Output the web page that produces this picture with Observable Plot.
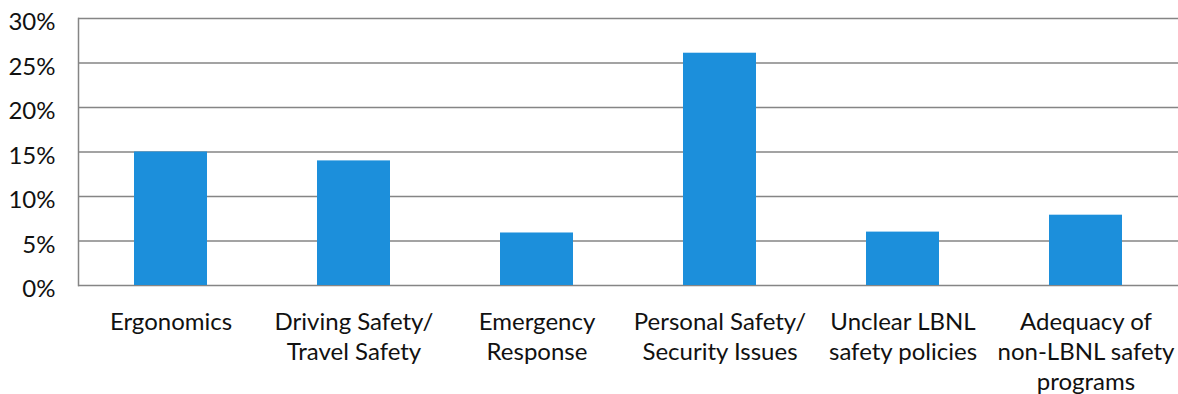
<!DOCTYPE html>
<html>
<head>
<meta charset="utf-8">
<script src="https://cdn.jsdelivr.net/npm/d3@7"></script>
<script src="https://cdn.jsdelivr.net/npm/@observablehq/plot@0.6"></script>
<style>
  body { margin: 0; background: #fff; }
</style>
</head>
<body>
<div id="chart"></div>
<script>
// Safety concern categories (line breaks mark wrapped labels)
const categories = [
  "Ergonomics",
  "Driving Safety/\nTravel Safety",
  "Emergency\nResponse",
  "Personal Safety/\nSecurity Issues",
  "Unclear LBNL\nsafety policies",
  "Adequacy of\nnon-LBNL safety\nprograms"
];
// Share of responses, in percent
const shares = [15.0, 14.0, 5.9, 26.1, 6.0, 7.9];
// Y-axis tick values, in percent
const yTicks = [0, 5, 10, 15, 20, 25, 30];

const rows = categories.map((category, i) => ({category, share: shares[i]}));

const chart = Plot.plot({
  width: 1178,
  height: 394,
  marginTop: 18,
  marginBottom: 109,
  marginLeft: 78,
  marginRight: 0,
  style: {fontFamily: "Lato, sans-serif", fontSize: "24px", color: "#111", background: "#fff"},
  x: {domain: categories, paddingInner: 0.6, paddingOuter: 0.3, align: 0.5, label: null},
  y: {domain: [0, 30], label: null},
  marks: [
    Plot.gridY(yTicks, {stroke: "#858585", strokeOpacity: 1, strokeWidth: 1.5}),
    Plot.frame({anchor: "left", stroke: "#858585", strokeWidth: 1.5}),
    Plot.barY(rows, {x: "category", y: "share", fill: "#1c8fdb"}),
    Plot.axisY(yTicks, {tickFormat: d => d + "%", tickSize: 0, tickPadding: 23, dy: 4, fontSize: 24, fill: "#111", label: null}),
    Plot.axisX({tickSize: 0, tickPadding: 23, lineHeight: 1.25, fontSize: 24, fill: "#111", label: null})
  ]
});

document.getElementById("chart").appendChild(chart);
</script>
</body>
</html>
